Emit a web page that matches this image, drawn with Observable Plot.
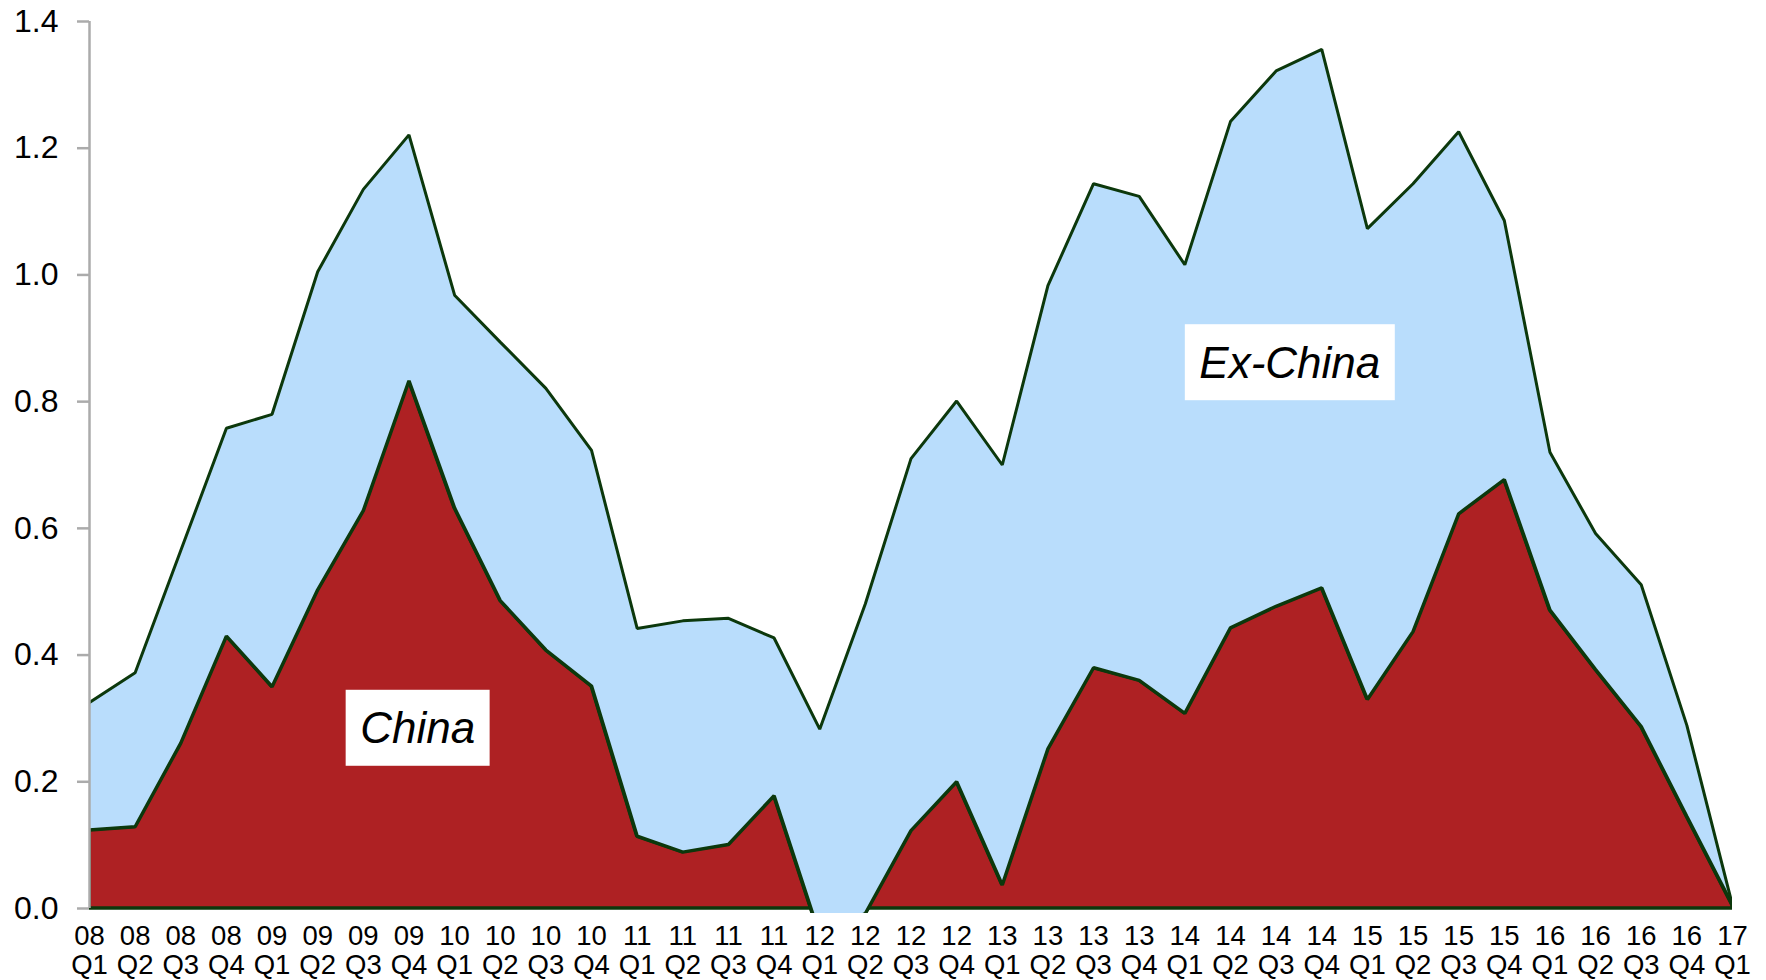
<!DOCTYPE html>
<html>
<head>
<meta charset="utf-8">
<script src="https://cdn.jsdelivr.net/npm/d3@7"></script>
<script src="https://cdn.jsdelivr.net/npm/@observablehq/plot@0.6"></script>
<style>
  html, body { margin: 0; padding: 0; background: #fff; }
</style>
</head>
<body>
<div id="chart"></div>
<script>
// Quarterly categories, 2008 Q1 through 2017 Q1
const quarters = [
  "08\nQ1", "08\nQ2", "08\nQ3", "08\nQ4",
  "09\nQ1", "09\nQ2", "09\nQ3", "09\nQ4",
  "10\nQ1", "10\nQ2", "10\nQ3", "10\nQ4",
  "11\nQ1", "11\nQ2", "11\nQ3", "11\nQ4",
  "12\nQ1", "12\nQ2", "12\nQ3", "12\nQ4",
  "13\nQ1", "13\nQ2", "13\nQ3", "13\nQ4",
  "14\nQ1", "14\nQ2", "14\nQ3", "14\nQ4",
  "15\nQ1", "15\nQ2", "15\nQ3", "15\nQ4",
  "16\nQ1", "16\nQ2", "16\nQ3", "16\nQ4",
  "17\nQ1"
];

// China contribution (bottom layer)
const china = [
  0.124, 0.129, 0.261, 0.430,
  0.350, 0.503, 0.628, 0.833,
  0.632, 0.486, 0.408, 0.351,
  0.114, 0.089, 0.101, 0.178,
  -0.042, -0.008, 0.123, 0.200,
  0.037, 0.252, 0.380, 0.360,
  0.308, 0.443, 0.477, 0.506,
  0.330, 0.437, 0.623, 0.677,
  0.471, 0.377, 0.287, 0.145,
  0.005
];

// Ex-China contribution (stacked on top of China)
const exChina = [
  0.201, 0.243, 0.304, 0.328,
  0.430, 0.502, 0.507, 0.388,
  0.336, 0.408, 0.413, 0.372,
  0.328, 0.365, 0.357, 0.249,
  0.325, 0.489, 0.587, 0.601,
  0.663, 0.731, 0.764, 0.764,
  0.708, 0.799, 0.845, 0.850,
  0.743, 0.707, 0.603, 0.409,
  0.249, 0.215, 0.224, 0.144,
  0.000
];

const yTicks = [0, 0.2, 0.4, 0.6, 0.8, 1.0, 1.2, 1.4];
const seriesNames = ["China", "Ex-China"];

const RED = "#ae2123";
const BLUE = "#b9ddfc";
const EDGE = "#0c380c";
const AXIS_GREY = "#ababab";

// Cumulative stack: China from zero, Ex-China from China up to the total
const rows = quarters.map((q, i) => ({
  i,
  china: china[i],
  top: china[i] + exChina[i]
}));

// Where the two series names sit (x in quarter index, y in chart units)
const nameSpots = [
  {name: seriesNames[0], i: 7.19, v: 0.283},
  {name: seriesNames[1], i: 26.3, v: 0.86}
];

const chart = Plot.plot({
  width: 1766,
  height: 980,
  marginLeft: 89,
  marginRight: 34,
  marginTop: 21,
  marginBottom: 67,
  insetBottom: 5,
  style: {
    fontFamily: "'Liberation Sans', Arial, sans-serif",
    background: "#fff",
    color: "#000"
  },
  x: {type: "linear", domain: [0, quarters.length - 1]},
  y: {domain: [0, 1.4]},
  marks: [
    Plot.areaY(rows, {
      x: "i", y1: 0, y2: "china",
      fill: RED, stroke: EDGE, strokeWidth: 3.5, strokeLinejoin: "miter",
      clip: true
    }),
    Plot.areaY(rows, {
      x: "i", y1: "china", y2: "top",
      fill: BLUE, clip: true
    }),
    Plot.lineY(rows, {
      x: "i", y: "china",
      stroke: EDGE, strokeWidth: 3.5, strokeLinejoin: "miter", clip: true
    }),
    Plot.lineY(rows, {
      x: "i", y: "top",
      stroke: EDGE, strokeWidth: 3, strokeLinejoin: "miter", clip: true
    }),
    Plot.ruleX([0], {y1: yTicks[0], y2: yTicks[yTicks.length - 1], stroke: AXIS_GREY, strokeWidth: 2.5}),
    Plot.axisY({
      ticks: yTicks,
      tickFormat: d3.format(".1f"),
      tickSize: 12,
      tickPadding: 19,
      fontSize: 32,
      stroke: AXIS_GREY,
      strokeWidth: 2.5,
      fill: "#000",
      label: null
    }),
    Plot.axisX({
      ticks: d3.range(quarters.length),
      tickFormat: (i) => quarters[i],
      tickSize: 0,
      tickPadding: 10,
      fontSize: 27.5,
      lineHeight: 1.08,
      fill: "#000",
      label: null
    }),
    Plot.text(nameSpots, {
      x: "i", y: "v", text: "name",
      fontSize: 44, fontStyle: "italic", fill: "#000",
      className: "series-name"
    })
  ]
});

document.getElementById("chart").append(chart);

// White boxes behind the series names
d3.select(chart).selectAll(".series-name text").each(function () {
  const b = this.getBBox();
  const cy = b.y + b.height / 2;
  const rect = d3.select(this.parentNode)
    .insert("rect", () => this)
    .attr("x", b.x - 14.5)
    .attr("y", cy - 38)
    .attr("width", b.width + 29)
    .attr("height", 76)
    .attr("fill", "#fff");
  const t = this.getAttribute("transform");
  if (t) rect.attr("transform", t);
});
</script>
</body>
</html>
